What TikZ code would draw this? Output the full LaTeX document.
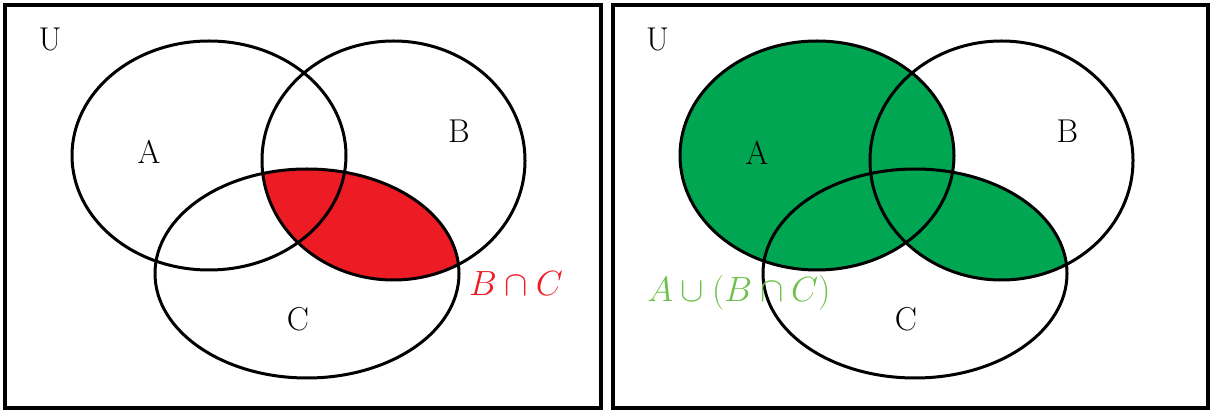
\RequirePackage{fix-cm}
\documentclass[tikz,border=0pt]{standalone}
\definecolor{myred}{HTML}{ED1C24}
\definecolor{mygreen}{HTML}{00A651}
\definecolor{lblgreen}{HTML}{6DC04B}
\tikzset{
  outline/.style={draw=black, line width=3pt},
  frame/.style={draw=black, line width=4pt},
  lbl/.style={inner sep=0pt, font=\fontsize{33}{40}\selectfont},
  mathlbl/.style={inner sep=0pt, font=\fontsize{35}{42}\selectfont},
}
\newcommand{\ellA}{(209,155.5) ellipse [x radius=137pt, y radius=114.5pt]}
\newcommand{\ellB}{(393.5,160.5) ellipse [x radius=131.5pt, y radius=119.5pt]}
\newcommand{\ellC}{(307,273.5) ellipse [x radius=152pt, y radius=104.5pt]}
\begin{document}
\begin{tikzpicture}[x=1pt,y=-1pt]
\useasboundingbox (0,0) rectangle (1210,411);
% ---------- left panel ----------
\begin{scope}
  \clip \ellB;
  \fill[myred] \ellC;
\end{scope}
\draw[frame] (5.3,5.3) rectangle (601,408);
\draw[outline] \ellA;
\draw[outline] \ellB;
\draw[outline] \ellC;
\node[lbl] (U1) at (50,39) {U};
\node[lbl] (A1) at (149,152) {A};
\node[lbl] (B1) at (459,131) {B};
\node[lbl] (C1) at (298,319) {C};
\node[mathlbl, text=myred] (BC1) at (516,284) {$B\cap C$};
% ---------- right panel ----------
\draw[frame] (613,5.3) rectangle (1208.3,408);
\begin{scope}[xshift=608pt]
  \fill[mygreen] \ellA;
  \begin{scope}
    \clip \ellB;
    \fill[mygreen] \ellC;
  \end{scope}
  \draw[outline] \ellA;
  \draw[outline] \ellB;
  \draw[outline] \ellC;
  \node[lbl] (U2) at (49.5,39) {U};
  \node[lbl] (A2) at (149,153) {A};
  \node[lbl] (B2) at (459.5,131) {B};
  \node[lbl] (C2) at (298,319) {C};
  \node[mathlbl, text=lblgreen] (ABC2) at (131,293) {$A\cup(B\cap C)$};
\end{scope}
\end{tikzpicture}
\end{document}
